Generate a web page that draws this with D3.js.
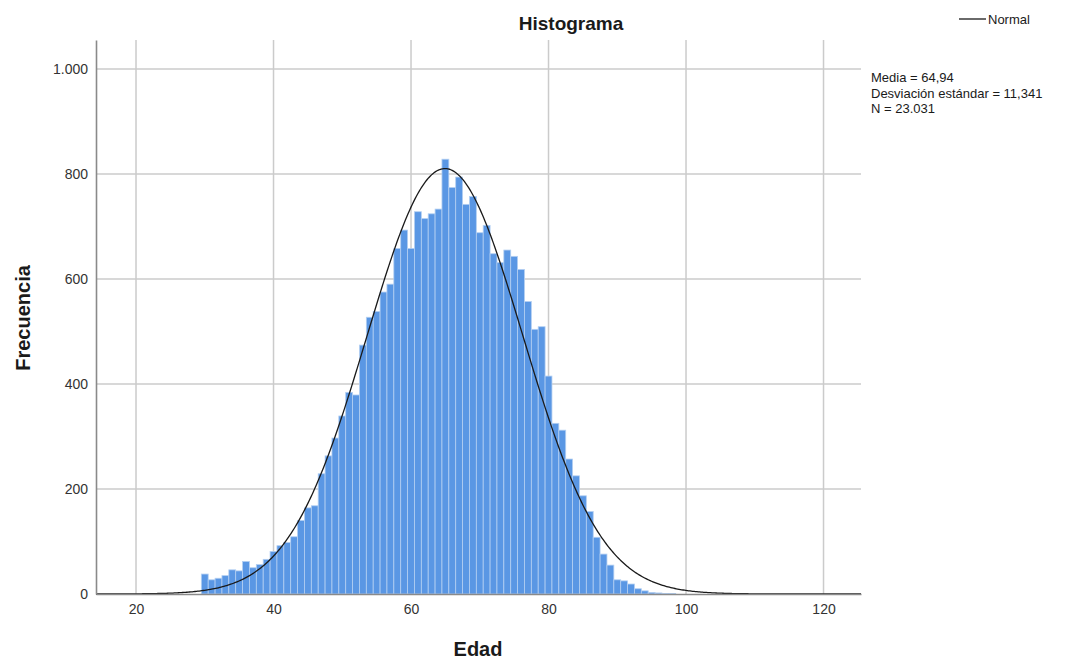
<!DOCTYPE html>
<html>
<head>
<meta charset="utf-8">
<script src="https://cdn.jsdelivr.net/npm/d3@7"></script>
<style>
  html, body { margin: 0; padding: 0; background: #fff; }
  svg { display: block; font-family: "Liberation Sans", Arial, sans-serif; }
</style>
</head>
<body>
<svg id="chart" width="1073" height="660"></svg>
<script>
// Age of each histogram bin (bin width 1 year, centred on the integer)
const ages = [30,31,32,33,34,35,36,37,38,39,40,41,42,43,44,45,46,47,48,49,50,
  51,52,53,54,55,56,57,58,59,60,61,62,63,64,65,66,67,68,69,70,71,72,73,74,75,
  76,77,78,79,80,81,82,83,84,85,86,87,88,89,90,91,92,93,94,95,96,97,98];
// Frequency of each bin
const counts = [38,27,30,35,46,44,62,50,56,66,81,92,98,109,140,164,168,229,263,297,339,
  384,379,474,527,538,575,590,658,693,658,728,715,724,733,828,774,794,742,757,688,702,
  648,631,655,643,618,557,504,509,415,325,312,257,225,187,157,108,76,55,27,25,19,10,6,3,2,1,1];

const xTicks = [20, 40, 60, 80, 100, 120];
const yTicks = [0, 200, 400, 600, 800, 1000];

// Summary statistics shown beside the chart
const mean = 64.94;
const sd = 11.341;
const n = 23031;
const binWidth = 1;

const svg = d3.select("#chart");
const plot = { left: 96, right: 861, top: 40, bottom: 594 };

const x = d3.scaleLinear().domain([14.18, 125.45]).range([plot.left, plot.right]);
const y = d3.scaleLinear().domain([0, 1055]).range([plot.bottom, plot.top]);

const fmtThousands = d3.formatLocale({ decimal: ",", thousands: ".", grouping: [3], currency: ["", ""] }).format(",d");

// Grid lines
svg.append("g").selectAll("line").data(xTicks).join("line")
  .attr("x1", d => x(d)).attr("x2", d => x(d))
  .attr("y1", plot.top).attr("y2", plot.bottom)
  .attr("stroke", "#cbcbcb").attr("stroke-width", 1.5);
svg.append("g").selectAll("line").data(yTicks.filter(d => d > 0)).join("line")
  .attr("x1", plot.left).attr("x2", plot.right)
  .attr("y1", d => y(d)).attr("y2", d => y(d))
  .attr("stroke", "#cbcbcb").attr("stroke-width", 1.5);

// Bars
svg.append("g").selectAll("rect").data(ages).join("rect")
  .attr("x", d => x(d - binWidth / 2))
  .attr("width", d => x(d + binWidth / 2) - x(d - binWidth / 2))
  .attr("y", (d, i) => y(counts[i]))
  .attr("height", (d, i) => y(0) - y(counts[i]))
  .attr("fill", "#5a97e4")
  .attr("stroke", "#b3cff2")
  .attr("stroke-width", 0.8);

// Fitted normal curve scaled to counts
const curvePts = d3.range(14.18, 125.45, 0.2).concat([125.45]).map(v => [
  v,
  n * binWidth / (sd * Math.sqrt(2 * Math.PI)) * Math.exp(-0.5 * ((v - mean) / sd) ** 2)
]);
svg.append("path")
  .datum(curvePts)
  .attr("fill", "none")
  .attr("stroke", "#1a1a1a")
  .attr("stroke-width", 1.3)
  .attr("d", d3.line().x(d => x(d[0])).y(d => y(d[1])));

// Axes
const xAxis = svg.append("g").attr("transform", `translate(0,${plot.bottom})`)
  .call(d3.axisBottom(x).tickValues(xTicks).tickSize(0).tickPadding(10).tickFormat(d3.format("d")));
const yAxis = svg.append("g").attr("transform", `translate(${plot.left},0)`)
  .call(d3.axisLeft(y).tickValues(yTicks).tickSize(0).tickPadding(8).tickFormat(fmtThousands));
[xAxis, yAxis].forEach(g => {
  g.select(".domain").attr("stroke", "#8a8a8a").attr("stroke-width", 1.6);
  g.selectAll("text").attr("font-size", 14).attr("fill", "#333")
    .attr("font-family", "'Liberation Sans', Arial, sans-serif");
});

// Titles
svg.append("text").attr("x", 571).attr("y", 30).attr("text-anchor", "middle")
  .attr("font-size", 19).attr("font-weight", "bold").attr("fill", "#1a1a1a").text("Histograma");
svg.append("text").attr("x", 478).attr("y", 656).attr("text-anchor", "middle")
  .attr("font-size", 20).attr("font-weight", "bold").attr("fill", "#1a1a1a").text("Edad");
svg.append("text").attr("transform", "translate(30,318) rotate(-90)").attr("text-anchor", "middle")
  .attr("font-size", 20).attr("font-weight", "bold").attr("fill", "#1a1a1a").text("Frecuencia");

// Legend
svg.append("line").attr("x1", 959).attr("x2", 986).attr("y1", 19).attr("y2", 19)
  .attr("stroke", "#1a1a1a").attr("stroke-width", 1.3);
svg.append("text").attr("x", 988).attr("y", 24).attr("font-size", 13).attr("fill", "#1a1a1a").text("Normal");

const fmtDec = (v, k) => v.toFixed(k).replace(".", ",");
const stats = [
  `Media = ${fmtDec(mean, 2)}`,
  `Desviación estándar = ${fmtDec(sd, 3)}`,
  `N = ${fmtThousands(n)}`
];
svg.append("g").selectAll("text").data(stats).join("text")
  .attr("x", 871).attr("y", (d, i) => 82 + i * 15.5)
  .attr("font-size", 13).attr("fill", "#1a1a1a").text(d => d);
</script>
</body>
</html>
